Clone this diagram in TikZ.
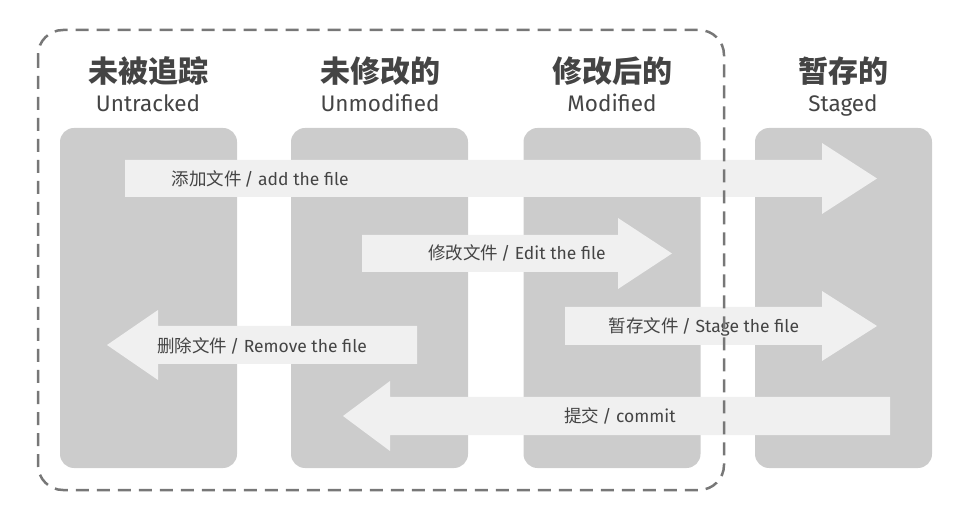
\documentclass[tikz,border=0pt]{standalone}
\usepackage{fontspec}
\setmainfont{Fira Sans}
\newfontfamily\cjk{Noto Sans CJK SC}
\usetikzlibrary{positioning}
\definecolor{colgray}{HTML}{CCCCCC}
\definecolor{flowgray}{HTML}{F0F0F0}
\definecolor{textgray}{HTML}{444444}
\definecolor{dashgray}{HTML}{777777}
\tikzstyle{column} = [fill=colgray, rounded corners=14pt, minimum width=177pt, minimum height=340pt]
\tikzstyle{flow} = [fill=flowgray]
\tikzstyle{title} = [text=textgray, anchor=base, font=\cjk\bfseries\fontsize{30}{32}\selectfont]
\tikzstyle{subtitle} = [text=textgray, anchor=base, font=\fontsize{22.5}{24}\selectfont]
\tikzstyle{flowtext} = [text=textgray, font=\fontsize{17.5}{19}\selectfont]

\begin{document}
\begin{tikzpicture}[x=1pt, y=-1pt]
  \useasboundingbox (0,0) rectangle (967,521);
  % the four states
  \node[column] (untracked) at (148.5,298) {};
  \node[column] (unmodified) at (379.5,298) {};
  \node[column] (modified) at (612,298) {};
  \node[column] (staged) at (843.5,298) {};
  \node[title] (untrackedzh) at (148,83) {未被追踪};
  \node[title] (unmodifiedzh) at (380,83) {未修改的};
  \node[title] (modifiedzh) at (612,83) {修改后的};
  \node[title] (stagedzh) at (843,83) {暂存的};
  \node[subtitle] (untrackeden) at (148,112) {Untracked};
  \node[subtitle] (unmodifieden) at (380,112) {Unmodified};
  \node[subtitle] (modifieden) at (612,112) {Modified};
  \node[subtitle] (stageden) at (843,112) {Staged};
  % big arrows
  \fill[flow] (125,160) -- (822,160) -- (822,143) -- (877,178.5) -- (822,214) -- (822,197) -- (125,197) -- cycle;
  \fill[flow] (362,235) -- (618,235) -- (618,218) -- (672,253.5) -- (618,289) -- (618,272) -- (362,272) -- cycle;
  \fill[flow] (565,307) -- (822,307) -- (822,291) -- (877,326) -- (822,361) -- (822,345) -- (565,345) -- cycle;
  \fill[flow] (417,326) -- (158,326) -- (158,310) -- (107,345) -- (158,380) -- (158,364) -- (417,364) -- cycle;
  \fill[flow] (890,397) -- (390,397) -- (390,381) -- (343,416) -- (390,451) -- (390,435) -- (890,435) -- cycle;
  \node[flowtext, anchor=west] (addfile) at (168,179) {{\cjk 添加文件}\,/ add the file};
  \node[flowtext] (editfile) at (517,253) {{\cjk 修改文件}\,/ Edit the file};
  \node[flowtext] (stagefile) at (704,327) {{\cjk 暂存文件}\,/ Stage the file};
  \node[flowtext] (removefile) at (262,346) {{\cjk 删除文件}\,/ Remove the file};
  \node[flowtext] (commit) at (620,416) {{\cjk 提交}\,/ commit};
  % working directory
  \draw[dashgray, line width=2.5pt, dash pattern=on 13pt off 8pt, rounded corners=25pt] (38,30) rectangle (724,490);
\end{tikzpicture}
\end{document}
